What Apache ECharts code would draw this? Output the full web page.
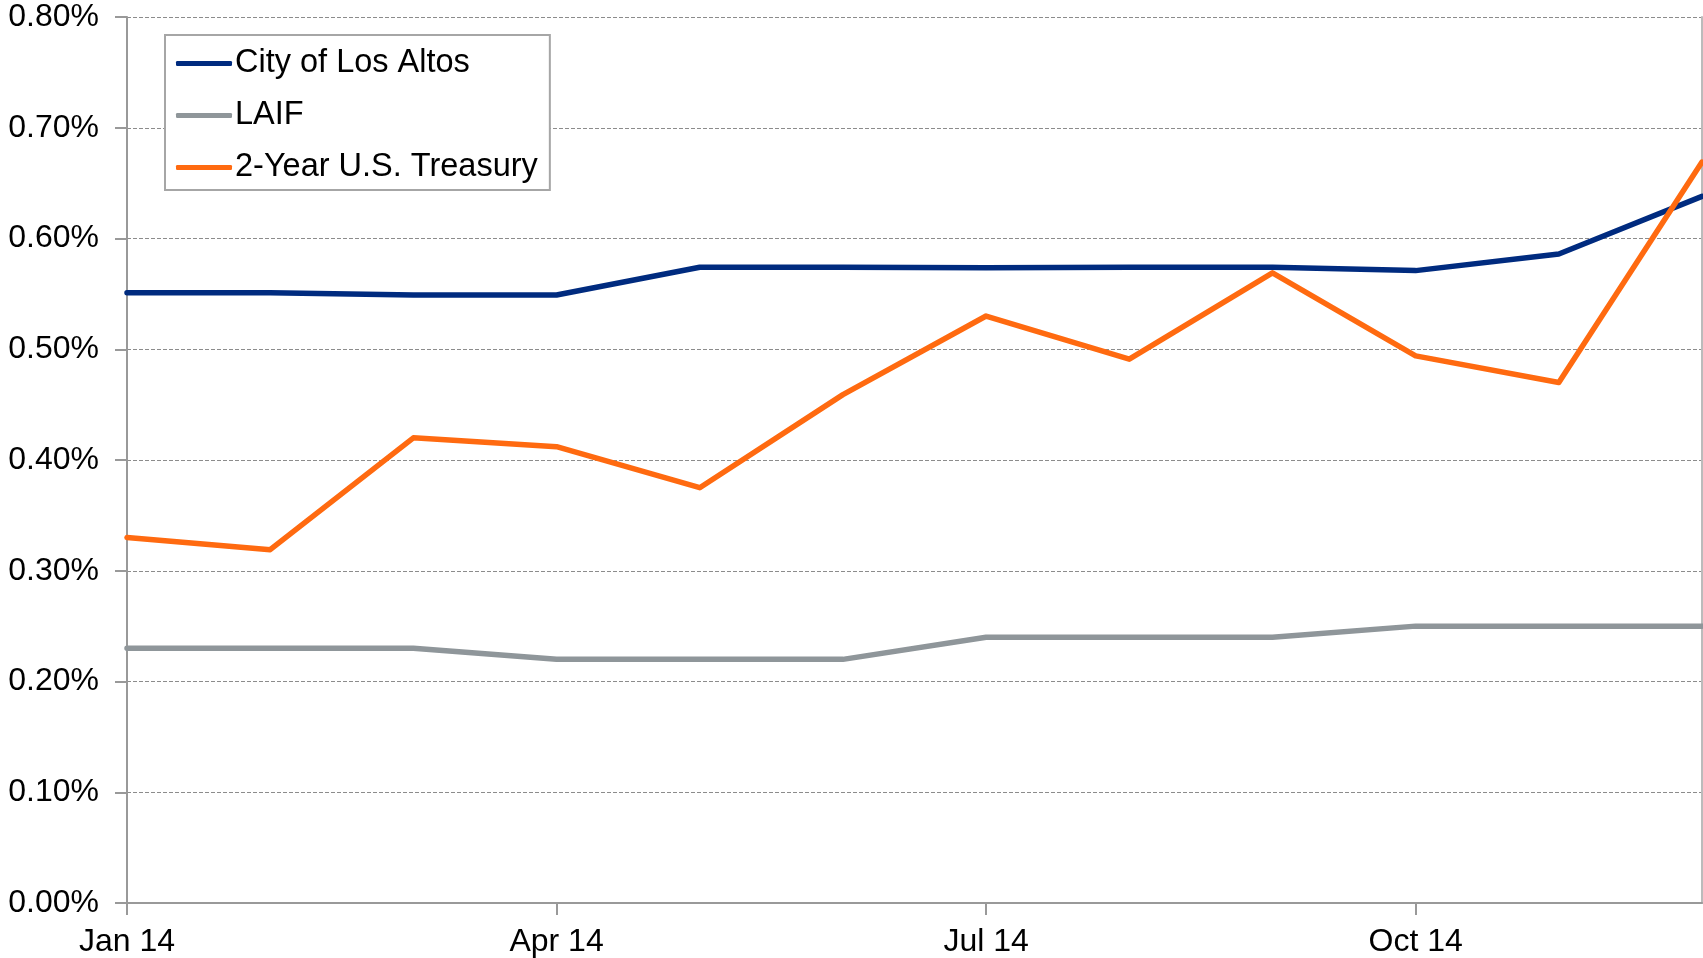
<!DOCTYPE html>
<html>
<head>
<meta charset="utf-8">
<script src="https://cdn.jsdelivr.net/npm/echarts@6/dist/echarts.min.js"></script>
<style>
  html, body { margin: 0; padding: 0; background: #fff; }
  #main { width: 1703px; height: 958px; }
</style>
</head>
<body>
<div id="main"></div>
<script>
// monthly yields, %
var months = ['Jan 14', 'Feb 14', 'Mar 14', 'Apr 14', 'May 14', 'Jun 14',
              'Jul 14', 'Aug 14', 'Sep 14', 'Oct 14', 'Nov 14', 'Dec 14'];
var losAltos = [0.551, 0.551, 0.549, 0.549, 0.574, 0.574, 0.5735, 0.574, 0.574, 0.571, 0.586, 0.638];
var laif = [0.23, 0.23, 0.23, 0.22, 0.22, 0.22, 0.24, 0.24, 0.24, 0.25, 0.25, 0.25];
var treasury = [0.330, 0.319, 0.420, 0.412, 0.375, 0.459, 0.530, 0.491, 0.569, 0.494, 0.470, 0.669];

var fontFam = '"Liberation Sans", Arial, sans-serif';

var chart = echarts.init(document.getElementById('main'));

function mkSeries(name, data, color) {
    return {
        name: name,
        type: 'line',
        data: data,
        symbol: 'none',
        lineStyle: { color: color, width: 5.5, cap: 'round', join: 'round' },
        itemStyle: { color: color },
        animation: false
    };
}

var option = {
    backgroundColor: '#fff',
    grid: { left: 127, right: 1, top: 17, bottom: 55 },
    legend: {
        orient: 'vertical',
        left: 165,
        top: 35,
        padding: [12, 12, 6, 11],
        itemGap: 19,
        itemWidth: 56,
        itemHeight: 5,
        icon: 'roundRect',
        borderColor: '#a6a6a6',
        borderWidth: 2,
        backgroundColor: '#fff',
        textStyle: { fontFamily: fontFam, fontSize: 32.5, color: '#000', padding: [0, 0, 0, -2], lineHeight: 32 },
        data: ['City of Los Altos', 'LAIF', '2-Year U.S. Treasury']
    },
    xAxis: {
        type: 'category',
        data: months,
        boundaryGap: false,
        axisLine: { lineStyle: { color: '#999', width: 2 } },
        axisTick: { interval: 2, length: 12, lineStyle: { color: '#999', width: 2 } },
        axisLabel: { interval: 2, margin: 23, fontFamily: fontFam, fontSize: 32, color: '#000' },
        splitLine: { show: false }
    },
    yAxis: [{
        type: 'value',
        min: 0,
        max: 0.8,
        interval: 0.1,
        axisLine: { show: true, lineStyle: { color: '#999', width: 2 } },
        axisTick: { show: true, length: 12, lineStyle: { color: '#999', width: 2 } },
        axisLabel: {
            margin: 28, fontFamily: fontFam, fontSize: 32, color: '#000',
            padding: [4, 0, 0, 0],
            formatter: function (v) { return v.toFixed(2) + '%'; }
        },
        splitLine: { show: true, lineStyle: { color: '#8c8c8c', type: [4, 2], width: 1 } }
    }, {
        // right border of the plot
        type: 'value',
        position: 'right',
        min: 0,
        max: 0.8,
        axisLine: { show: true, lineStyle: { color: '#bbb', width: 2 } },
        axisTick: { show: false },
        axisLabel: { show: false },
        splitLine: { show: false }
    }],
    series: [
        mkSeries('City of Los Altos', losAltos, '#002B7F'),
        mkSeries('LAIF', laif, '#8F969A'),
        mkSeries('2-Year U.S. Treasury', treasury, '#FF6A10')
    ]
};

chart.setOption(option);
</script>
</body>
</html>
